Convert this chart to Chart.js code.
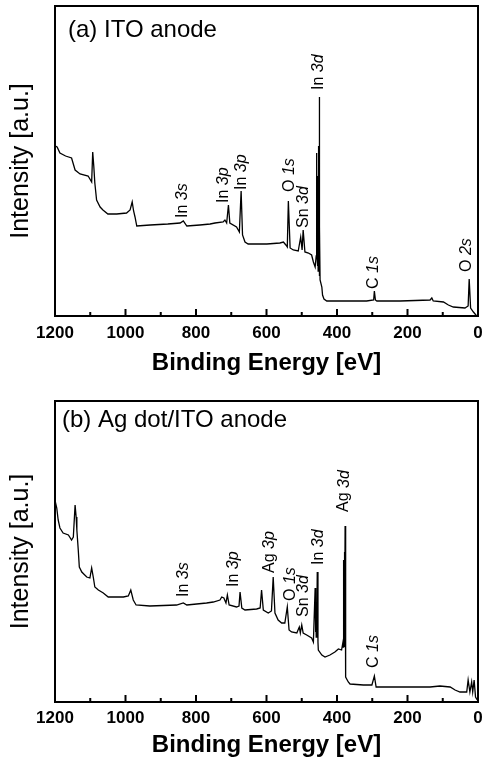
<!DOCTYPE html>
<html>
<head>
<meta charset="utf-8">
<script src="https://cdn.jsdelivr.net/npm/chart.js@4.4.0/dist/chart.umd.min.js"></script>
<style>
  html, body { margin: 0; padding: 0; background: #fff; }
  canvas { display: block; }
</style>
</head>
<body>
<canvas id="panelA" width="490" height="380"></canvas>
<canvas id="panelB" width="490" height="380"></canvas>
<script>
// (a) ITO anode survey spectrum
const energyA = [1199,1194,1186,1170,1153,1143,1129,1106,1096,1093,1090,1087,1082,1072,1064,1050,1025,997,987,981,977,973,968,930,880,845,836,826,789,760,746,723,718,713,708,704,685,677,672,668,661,652,599,562,552,545,541,538,533,524,510,503,499,496,491,481,472,467,462,459,458.5,458,457.5,457,456.5,456,455.5,455,454.5,454,453.5,453,452.5,452,451.5,451,450.5,450,449.5,449,448,443,441,437,429,410,316,296,294,291,287,221,136,131,127,98,84,70,37,28,25,21,13,6,1];
const intensityA = [170,169,163,160,158,146,142,140,134,164,150,133,116,109,106,102,102,103,106,114,105,99,90,91,92,93,95,90,91,92,93,94,96,93,111,93,89,84,125,81,74,72,72,73,74,71,69,115,68,66,65,79,66,86,64,63,61,54,49,60,120,163,70,150,60,140,55,130,50,120,45,110,50,170,45,150,40,219,40,90,36,29,21,17,15,15,15,16,25,16,15,15,16,18,15,14,11,9,8,10,37,8,4,1,0];

// (b) Ag dot/ITO anode survey spectrum
const energyB = [1199,1195,1191,1186,1177,1162,1153,1148,1143,1140,1138,1134,1131,1124,1110,1101,1096,1091,1087,1077,1063,1049,1006,992,985,978,970,931,855,836,826,770,751,732,727,721,715,711,706,685,678,675,670,661,628,618,614,609,595,586,581,576,567,557,548,541,536,529,514,507,504,500,496,486,472,467,462,461,460,459,458,457,456,454,453,443,434,420,406,396,387,383,382.5,382,381.5,381,380.5,380,379.5,379,378.5,378,377.5,377,376,375,368,363,325,301,294,289,231,136,108,79,65,51,32,28,23,18,15,11,7,2];
const intensityB = [200,194,182,174,169,167,162,165,197,185,172,152,135,130,125,124,134,124,115,112,109,105,105,106,112,102,97,96,97,99,97,99,100,102,105,104,99,107,97,95,96,110,94,92,93,94,112,92,89,91,125,89,82,79,79,95,72,70,69,75,69,77,69,67,64,60,114,70,100,65,95,70,130,60,52,47,45,47,50,53,52,60,55,142,60,135,60,130,58,120,55,150,60,176,80,25,20,18,17,17,26,15,15,15,16,15,12,10,10,22,10,20,10,22,5,2];

// peak assignments: [element, orbital, energy, intensity at label foot]
const peaksA = [
  ['In', '3s', 837, 98], ['In', '3p', 723, 113], ['In', '3p', 670, 126],
  ['O', '1s', 535, 124], ['Sn', '3d', 496, 88], ['In', '3d', 453, 226],
  ['C', '1s', 297, 27], ['O', '2s', 32, 44]
];
const peaksB = [
  ['In', '3s', 836, 105], ['In', '3p', 694, 115], ['Ag', '3p', 590, 129],
  ['O', '1s', 533, 101], ['Sn', '3d', 495, 85], ['In', '3d', 453, 137],
  ['Ag', '3d', 380, 190], ['C', '1s', 297, 34]
];

const FONT = "'Liberation Sans', Arial, sans-serif";
Chart.defaults.font.family = FONT;
Chart.defaults.color = '#000';

const frameAndLabels = {
  id: 'frameAndLabels',
  afterDraw(chart, args, opts) {
    const {ctx, chartArea: a, scales: {x, y}} = chart;
    ctx.save();
    // ticks pointing into the plot
    x.ticks.forEach(t => {
      const px = x.getPixelForValue(t.value);
      const len = t.value % 200 === 0 ? 7 : 4;
      ctx.fillStyle = '#000';
      ctx.fillRect(px - 1, a.bottom - len, 2, len);
    });
    ctx.strokeStyle = '#000';
    ctx.lineWidth = 2;
    ctx.strokeRect(a.left, a.top, a.right - a.left, a.bottom - a.top);

    ctx.fillStyle = '#000';
    ctx.textBaseline = 'middle';
    ctx.textAlign = 'left';
    ctx.font = '24px ' + FONT;
    ctx.fillText(opts.title, a.left + opts.titleDx, a.top + opts.titleDy);

    opts.peaks.forEach(p => {
      const px = x.getPixelForValue(p[2]);
      const py = y.getPixelForValue(p[3]);
      ctx.save();
      ctx.translate(px, py);
      ctx.rotate(-Math.PI / 2);
      ctx.font = '16px ' + FONT;
      const head = p[0] + ' ';
      ctx.fillText(head, 0, 0);
      const w = ctx.measureText(head).width;
      ctx.font = 'italic 16px ' + FONT;
      ctx.fillText(p[1], w, 0);
      ctx.restore();
    });
    ctx.restore();
  }
};

function makePanel(id, energy, intensity, yMax, peaks, title, titleDx, titleDy, padTop, axisH, tickPad, titlePad) {
  const pts = energy.map((e, i) => ({x: e, y: intensity[i]}));
  return new Chart(document.getElementById(id), {
    type: 'line',
    data: {
      datasets: [{
        data: pts,
        borderColor: '#000',
        borderWidth: 1.3,
        pointRadius: 0,
        tension: 0,
        fill: false
      }]
    },
    options: {
      responsive: false,
      animation: false,
      layout: { padding: { top: padTop, right: 12, left: 0, bottom: 0 } },
      plugins: {
        legend: { display: false },
        tooltip: { enabled: false },
        frameAndLabels: { peaks: peaks, title: title, titleDx: titleDx, titleDy: titleDy }
      },
      scales: {
        x: {
          type: 'linear',
          reverse: true,
          min: 0,
          max: 1200,
          grid: { display: false, drawTicks: false },
          border: { display: false },
          ticks: {
            stepSize: 100,
            autoSkip: false,
            maxRotation: 0,
            padding: tickPad,
            font: { size: 17, weight: 'bold' },
            callback: v => (v % 200 === 0 ? String(v) : '')
          },
          title: {
            display: true,
            text: 'Binding Energy [eV]',
            font: { size: 24, weight: 'bold' },
            padding: { top: 0, bottom: titlePad }
          },
          afterFit: s => { s.height = axisH; }
        },
        y: {
          min: 0,
          max: yMax,
          grid: { display: false, drawTicks: false },
          border: { display: false },
          ticks: { display: false },
          title: {
            display: true,
            text: 'Intensity [a.u.]',
            font: { size: 25 },
            padding: { top: 6, bottom: 0 }
          },
          afterFit: s => { s.width = 55; }
        }
      }
    },
    plugins: [frameAndLabels]
  });
}

makePanel('panelA', energyA, intensityA, 310, peaksA, '(a) ITO anode', 13, 24, 6, 64, 7, 2);
makePanel('panelB', energyB, intensityB, 301, peaksB, '(b) Ag dot/ITO anode', 7, 19, 21, 58, 6, 0);
</script>
</body>
</html>
